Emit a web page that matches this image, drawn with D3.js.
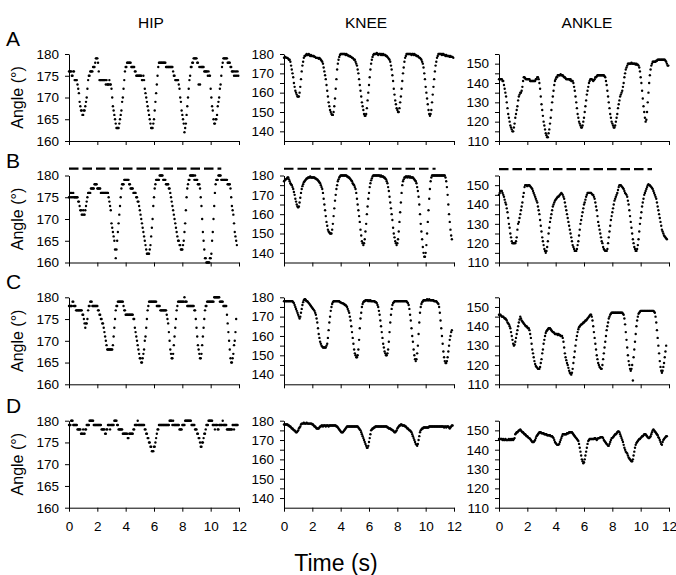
<!DOCTYPE html>
<html><head><meta charset="utf-8">
<script src="https://cdn.jsdelivr.net/npm/d3@7/dist/d3.min.js"></script>
<style>
body{margin:0;background:#fff}
svg{display:block}
text{font-family:"Liberation Sans",Arial,Helvetica,sans-serif;fill:#000}
</style>
</head><body>
<svg id="chart" width="676" height="575"></svg>
<script>
// ---------- data ----------
const sampleStep = 0.05;               // seconds between samples
const columns = ["HIP", "KNEE", "ANKLE"];
const rowLetters = ["A", "B", "C", "D"];
const xTicks = [0, 2, 4, 6, 8, 10, 12];
const hipTicks = [160, 165, 170, 175, 180];
const kneeTicks = [140, 145, 150, 155, 160, 165, 170, 175, 180];
const ankleTicks = [110, 115, 120, 125, 130, 135, 140, 145, 150, 155];
const hipDomain = [160, 180];
const kneeDomain = [135, 180];
const ankleDomain = [110, 155];
// dashed reference line in row B (value, end time) per column
const refLineValues = [181.6, 183.5, 158.3];
const refLineEnds = [10.75, 10.7, 10.8];

const hipA = [
176,176,176,176,175,175,176,176,174,174,174,174,173,172,171,169,168,167,167,166,
166,167,167,168,169,170,172,174,175,175,176,176,176,176,177,177,177,178,179,179,
179,178,176,174,174,174,174,174,174,174,174,174,173,174,173,173,173,174,173,173,
172,170,168,167,166,165,164,163,163,163,163,164,165,166,167,169,170,172,174,176,
177,177,178,178,178,178,178,178,177,177,177,177,177,176,176,175,175,175,175,175,
175,175,175,174,174,175,174,172,171,170,169,168,167,166,165,164,163,163,163,164,
165,167,169,171,173,175,177,178,178,178,178,178,178,178,178,178,178,177,177,177,
177,177,177,177,177,177,177,176,175,175,174,174,174,174,174,173,172,170,169,167,
166,165,164,162,163,164,166,168,170,172,174,175,177,177,178,178,179,179,179,179,
179,178,178,173,177,173,177,177,177,177,177,176,176,176,176,176,175,176,175,175,
172,170,168,167,165,164,164,165,165,166,168,169,170,172,173,175,177,178,179,179,
179,179,179,179,178,178,178,178,177,177,176,176,176,175,176,175,176,175,176,175];

const kneeA = [
178,178.5,178.5,178,178,178,177.5,177,177,176,174,172,170,168,165,163,161,160,159,158,
158,158,160,163,167,171,174,176,178,179,179,179.5,180,179.5,179.5,180,179.5,179,179.5,179,
179,179,179,178.5,178.5,178,178,178,178,177.5,178,177.5,177,176.5,176,175,173,171,169,167,
164,161,158,155,153,151,150,149,148.5,148.5,150,153,157,162,167,172,175,177,178.5,179.5,
180,180,180,180,180,180,180,179.5,180,179.5,179.5,179,179,179,178.5,178.5,178,178,177.5,177,
177,176,175,174,172,170,167,164,161,158,155,153,151,149,148,148,149,152,156,160,
164,168,172,175,177,178.5,179.5,180,180,180,180,180.5,180,179.5,180,180,180,179.5,180,179.5,
180,179.5,179.5,179.5,179,179,178.5,178,177.5,177,176,174,172,169,166,162,159,156,154,152,
151,150,150,152,155,158,162,166,170,173,176,178,179,180,180,180,180,180,180,180,
179.5,180,180,179.5,180,179.5,179.5,179,179,179,178.5,178,178,177.5,177,176,175,173,170,167,
163,160,157,154,151,149,148,149,151,155,159,163,167,171,174,176,178,179,180,180,
180,180,180,179.5,180,180,179.5,179.5,179,179.5,179,179,179,179,178.5,179,178.5,178.5,178.5,178];

const ankleA = [
142,142,142,142,142,141,141,139,137,135,133,130,127,124,122,120,118,117,116,115,
115,117,119,122,124,126,128,131,133,134,135,135,136,138,141,143,143,142.5,142,142,
142,142,142,142,141,141,141,141,141,141,141,141,142,142,143,143,142,140,137,133,
129,126,123,120,118,116,114,113,112,112,114,116,119,122,126,130,133,136,139,141,
142,143,143,144,144,144,144,144.5,144,144,144,143.5,143,143,142.5,142,142,142,142,142,
141.5,142,141,141,141,140,138,136,133,130,127,124,122,120,119,118,117,117,118,120,
122,125,128,131,134,136,138,140,141,142,142,142,141.5,141,141.5,142,143,143,143.5,144,
144,144,144,144,144,144,144,144,144,143.5,143,141,139,136,133,130,127,124,122,120,
119,118,117,117,118,120,122,124,127,129,131,133,134,135,136,138,140,143,145,147,
148,149,150,150,150,150,150,150.5,150,150,150,150,150,149.5,150,149.5,149.5,149,148,146,
143,140,136,132,128,125,122,120,121,125,130,135,140,144,147,149,150,151,151,151,
151,151,151.5,151.5,152,152,152,152,152,152,152,152,152,152,152,151.5,151,150,149,149];

const hipB = [
175,175,176,175,176,175,176,175,175,175,175,175,175,174,174,173,172,172,171,171,
172,171,171,172,173,174,175,176,176,176,176,177,177,177,177,177,178,178,178,178,
177,177,177,177,177,176,176,176,176,176,176,176,176,176,176,176,175,174,173,172,
169,168,167,166,165,163,161,163,165,167,169,171,173,175,177,178,178,178,179,179,
179,179,179,179,179,178,178,177,177,177,177,176,176,176,176,175,175,174,174,173,
172,171,170,169,168,167,166,165,164,163,162,162,162,162,163,164,166,168,170,173,
175,177,178,179,179,179,179,179,180,180,180,180,180,179,179,179,179,178,178,178,
178,177,177,176,175,174,173,172,171,170,169,168,167,166,165,165,164,164,163,163,
163,164,165,167,169,172,175,177,178,179,179,180,180,180,180,180,180,179,180,179,
179,179,178,178,178,177,175,173,170,167,165,163,161,161,160,160,160,160,160,161,
161,162,165,167,170,173,176,178,179,179,179,180,180,180,180,179,179,179,179,179,
179,179,179,179,178,178,178,178,177,175,173,172,171,169,167,166,165,164];

const kneeB = [
177,177.5,178,178,178.5,179,179,178,177,176,175.5,175,174,173,171.5,170,168,166.5,165,164,
163.5,164,166,168.5,171,173,174.5,175.5,176.5,177,177.5,178,178.5,178.5,179,179,179,179.5,179,179,
179,179,179,179,178.5,178.5,178,178,177.5,177,176.5,176,175,174,173,171,168,165,162,159,
156,154,152,151,150.5,150,150,150,152,155,159,163,167,170,173,175,177,178,179,179.5,
180,180,180,180,180,180,180,180,180,179.5,179.5,179,179,178.5,178,177.5,177,176,175.5,175,
174,173,171,168,165,162,159,156,152,149,146,145,144,145,147,151,155,160,164,168,
171,174,176,177.5,178.5,179.5,180,180,180,180,180,180,180,180,180,180,179.5,180,179.5,179.5,
179.5,179,179,178.5,178,177,176,174,172,169,166,163,160,157,153,150,148,146,145,144,
145,147,151,156,161,166,171,175,177,178,179,179,179.5,179.5,179,179.5,179.5,179,179.5,179,
179,179,179,178.5,178,177.5,177,176,174,172,169,165,160,155,151,147,143,140,138,138,
140,144,150,156,162,168,173,177,179,180,180,180,180,180,180,180,180,180,180,180,
180,180,180,180,180,180,180,180,179,177,174,170,165,160,156,152,149,147];

const ankleB = [
145,146,147,147,147,146,145,144,142.5,141,140,138,136,133,130,128,125,123,121,120,
120,120,120,120,121,123,127,130,131,133,135,137,139,141,144,146,149,150,150,150,
149.5,150,150,150,149.5,149,148.5,148,147,146,145,144,143,142,141,139,137,135,132,129,
126,123,121,119,117,116,115,116,118,121,125,128,131,133,135,137,139,140,141,142,
142.5,143,143.5,144,144,144.5,145,145.5,146,145.5,145,144,143,141,139,137,135,133,131,129,
127,125,123,121,119,118,117,116,116,116,117,119,121,124,127,130,132,134,136,138,
140,141,142.5,144,145,146,146,146,146,146,146,145.5,145,145,144,143,141,139,137,134,
131,129,127,125,123,121,120,118,117,116.5,116,116,116,117,120,123,126,129,132,134,
136,138,140,142,143,144,145,146,147.5,149,150,150,150,149.5,149,148.5,148,147,146,145.5,
145,144,142,140,137,134,131,128,125,122,120,118,117,116,116,117,119,122,126,130,
133,136,139,141,143,145,146,147,148,149,150,150.5,150,150,149.5,149,148.5,148,147,146,
145,144,143,141,139,137,135,133,131,129,127,126,125,124,123.5,123,122.5,122];

const hipC = [
178,178,178,178,178,179,179,178,178,178,177,177,177,177,177,177,177,177,177,176,
176,175,174,173,174,174,175,177,178,178,179,179,179,178,178,178,178,178,178,178,
178,177,177,176,176,175,175,174,174,173,172,171,170,169,168,168,168,168,168,168,
168,168,169,171,173,175,177,178,178,179,179,179,179,179,179,179,179,178,177,177,
176,176,176,176,176,176,176,176,176,176,176,175,175,173,172,171,170,169,168,167,
166,166,165,165,166,167,168,170,171,173,175,177,178,179,179,179,179,179,179,179,
179,179,179,179,178,178,178,178,178,177,177,177,177,177,177,177,177,177,176,175,
174,172,170,168,167,166,166,167,169,171,173,175,177,178,179,179,179,179,179,179,
179,179,179,180,179,179,179,178,178,178,178,178,178,178,178,178,178,177,177,175,
173,171,169,168,167,166,166,167,169,171,173,175,177,178,178,179,179,179,179,179,
179,179,179,179,179,180,180,180,180,180,180,180,180,179,179,179,179,179,178,178,
178,178,178,176,174,172,170,168,166,165,165,166,167,169,170,172,175];

const kneeC = [
178,178,178,178,178,178,178,178,178,178,178,178,178,177.5,177,176,175,174,173,172,
171,170,169,170,172,174,176,177.5,178.5,179,179,178.5,178,178,177.5,177,176.5,176,175.5,175,
174.5,174,173.5,173,172,171,169,167,164,161,159,157,156,155,154.5,154,154,154,154,154,
155,156,159,163,167,170,173,175,176.5,177.5,178,178,178,178,178,178,178,178,178,177.5,
177.5,177,177,177,176.5,176.5,176,176,175.5,175,174,173,172,170,168,165,162,159,156,153,
151,150,149,149,150,153,158,164,169,172,175,176.5,177.5,178,178,178.5,178.5,178.5,178.5,178,
178.5,178,178.5,178,178,178,178,178,178,177.5,177.5,177,176,175,173,171,168,165,162,159,
156,154,152,151,150,150,151,153,157,162,167,171,174,176,177,177.5,178,178,178,178,
178,178,178,178,178,178,178,178,178,178,178,178,178,178,177.5,177,176,174,171,168,
164,160,157,153,150,148,147,148,151,155,161,167,172,175,176.5,177.5,178,178.5,178.5,178.5,
178.5,178.5,179,178.5,178.5,179,178.5,178.5,178.5,178.5,178.5,178.5,178,178,178,178,177.5,177,176.5,175,
172,168,164,160,156,152,149,147,146,146,147,149,152,155,158,160,162,163];

const ankleC = [
146,146,146,145.5,145,145,145,144.5,144,144,143.5,143,142,141.5,141,140,139,137,135,133,
131,130,130.5,132,134,136,138,140,142,143.5,145,144,143,142.5,142,141.5,141,140.5,140,140,
139.5,139,139,138,136,134,131,128,126,124,122,120.5,119.5,119,118.5,118,118,118,119,121,
123,126,128,131,133,135,136.5,137.5,138,138.5,139,139,139,138.5,138,137.5,137,137,136.5,136,
136,136,136,135.5,136,135.5,135.5,135,135,135,134,132,129,126,124,122.5,121,120,118.5,117,
116,115.5,115,116,118,121,124,127,130,133,135,137,138.5,139.5,140,140.5,141,141,141.5,142,
142,142.5,143,143,143.5,144,144.5,145,145.5,146,146,145,143,140,137,134,131,128,125,123,
121,120,119,118.5,118,118,120,123,126,129,132,135,138,140,142,144,145,146,146.5,147,
147,147,147,147,147,147,147,147,147,147,147,147,147,147,147,146.5,146,144,141,137,
133,129,125,122,120,118,117,118,120,112,124,128,132,136,140,143,145,146.5,147,147.5,
148,148,148,148,148,148,148,148,148,148,148,148,148,148,148,148,148,148,148,147.5,
147,145,142,138,134,130,126,122,119,117,116,117,119,121,124,127,130];

const hipD = [
179,179,179,180,180,180,179,179,179,179,179,179,178,178,178,178,178,177,177,177,
178,177,177,178,178,179,179,179,179,180,180,180,180,180,180,179,179,179,179,179,
179,179,179,179,179,179,178,178,178,178,178,177,177,178,178,179,179,179,178,179,
179,179,179,179,180,180,180,180,179,179,178,178,178,178,178,178,177,177,177,177,
177,177,177,176,176,177,177,177,177,177,177,178,178,179,179,179,179,180,179,179,
179,179,179,179,179,179,179,178,178,177,177,176,176,175,175,174,174,173,173,173,
174,174,175,176,177,178,178,179,179,179,179,179,179,179,179,179,179,179,179,179,
179,179,180,180,180,180,179,180,179,179,179,179,179,179,179,179,178,178,178,178,
179,179,179,179,180,180,180,180,180,180,180,180,180,179,179,179,179,179,178,178,
178,177,177,176,176,175,174,174,175,175,176,177,177,178,179,179,179,180,180,180,
180,180,180,179,179,179,178,179,179,179,178,178,179,179,179,179,179,180,179,179,
179,179,179,178,178,178,178,178,178,178,178,179,179,178,179,179,179,179,179];

const kneeD = [
178,178,178,178,178,178,177.5,177.5,177,177,176.5,176,176,175.5,175,175,174.5,174,174,174.5,
175,176,176.5,177,178,178.5,178.5,178.5,179,178.5,178.5,178.5,179,178.5,178.5,178.5,178.5,178.5,178.5,178.5,
178,178,177.5,177,177,176.5,176,176,176,176,176.5,177,177,177.5,177.5,177,177.5,177.5,177.5,177,
177.5,177.5,177.5,177,177.5,177.5,177.5,177.5,177.5,177.5,177.5,177.5,177.5,177.5,177,177,176.5,176,175.5,175,
174.5,174,174,174,174.5,175,175.5,176,176.5,177,177,177,177,177,177,177,177,177,177,177,
177,177,177,177,177,176.5,176,175.5,175,174,173,172,171,170,169,168,167,166,166,167,
169,171,173,175,175.5,176,176,176.5,176.5,177,177,177,177,177,177,177,177,177,177,177,
177,177,177,177,177,177,176.5,176.5,176,176,176,175.5,175.5,175,175,174.5,174,174,174.5,175,
176,176.5,177,177.5,177.5,178,178,177.5,177.5,177.5,177.5,177,177,176.5,176,176,175.5,175,175,174.5,
174,173,172,171,170,169,168,167.5,167,168,170,172,174,175,175.5,176,176,176.5,176.5,176.5,
176.5,176.5,176.5,176.5,176.5,177,177,177,177,177,177,177,177,177,177,177,177,177,177,177,
177,177,177,177,177,177,176.5,177,177,176.5,177,177,177,176.5,176,176.5,177,177.5,177.5];

const ankleD = [
145.5,145.5,145.5,145.5,145.5,145,145.5,145,145,145.5,145,145,145,145,145.5,145,145,145.5,145,145.5,
145,145.5,146,148,148.5,149,149,149.5,150,150,150.5,150,149.5,149,149,148.5,148,148,147.5,147,
147,146.5,146,146,145.5,145,144.5,144,144,144,144.5,145,146,147,147.5,148,148.5,149,149,149,
148.5,148.5,148.5,148.5,148,148,148,148,147.5,147.5,147.5,147.5,147.5,147,147,147,146.5,146,145,144,
143.5,143,142.5,142.5,142.5,143,144,145,146,147,148,148,148,148,148,148,148.5,148.5,148.5,149,
149,149,149,149,148.5,148,147.5,147,146.5,146,145.5,145,144.5,143,141,139,137,135,134,133,
133.5,135,137,139,141,143,144.5,145,145.5,145.5,145.5,145.5,145.5,145.5,145.5,146,146,145.5,145,145.5,
146,146,146,146.5,146.5,146.5,146.5,146,145,144.5,144,143.5,143,142.5,142,142,143,144,145,146,
146,146.5,147,147.5,148,148,148.5,149,149.5,149.5,149,148,147,146,145,144,142.5,141,140,139,
138.5,138,137,136,135.5,135,134.5,134,134,135,137,139,141,142.5,143.5,144,144.5,145,145.5,145.5,
146,146.5,147,147,147.5,148,148,148,147.5,147,146.5,146,146,146.5,147,148,149,150,150.5,150,
149.5,149,148.5,148,147.5,146.5,146,145,144,143,142.5,144,145,145.5,146,146.5,147,147];

const series = [
  [hipA, kneeA, ankleA],
  [hipB, kneeB, ankleB],
  [hipC, kneeC, ankleC],
  [hipD, kneeD, ankleD]
];
const domains = [hipDomain, kneeDomain, ankleDomain];
const yTicks = [hipTicks, kneeTicks, ankleTicks];

// ---------- layout ----------
const colX = [69, 284, 499];
const panelW = 170;
const rowTop = [54, 175.5, 297.3, 420.7];
const panelH = 87;

const svg = d3.select("#chart");

// column titles
const titleX = [151, 366, 587];
columns.forEach((c, i) => {
  svg.append("text").attr("x", titleX[i]).attr("y", 28)
    .attr("text-anchor", "middle").attr("font-size", 15.5).text(c);
});

// row letters
rowLetters.forEach((l, r) => {
  svg.append("text").attr("x", 6).attr("y", rowTop[r] - 8)
    .attr("font-size", 21).text(l);
});

rowLetters.forEach((letter, r) => {
  // y-axis label for the hip column
  svg.append("text")
    .attr("transform", `translate(23,${rowTop[r] + panelH / 2}) rotate(-90)`)
    .attr("text-anchor", "middle").attr("font-size", 16)
    .text("Angle (°)");

  columns.forEach((col, c) => {
    const x = d3.scaleLinear().domain([0, 12]).range([colX[c], colX[c] + panelW]);
    const y = d3.scaleLinear().domain(domains[c]).range([rowTop[r] + panelH, rowTop[r]]);
    const g = svg.append("g");

    // y axis
    const yAxis = d3.axisLeft(y).tickValues(yTicks[c]).tickSize(4).tickSizeOuter(0).tickPadding(6)
      .tickFormat(d => (c === 0 || d % 10 === 0) ? d : "");
    const ya = g.append("g").attr("transform", `translate(${colX[c]},0)`).call(yAxis);
    ya.selectAll("text").attr("font-size", 13.5).style("font-family", '"Liberation Sans",Arial,sans-serif');
    ya.selectAll("line,path").attr("stroke", "#000");

    // x axis
    const xAxis = d3.axisBottom(x).tickValues(xTicks).tickSize(4).tickSizeOuter(0).tickPadding(10)
      .tickFormat(d => r === 3 ? d : "");
    const xa = g.append("g").attr("transform", `translate(0,${rowTop[r] + panelH})`).call(xAxis);
    xa.selectAll("text").attr("font-size", 13.5).style("font-family", '"Liberation Sans",Arial,sans-serif');
    xa.selectAll("line,path").attr("stroke", "#000");

    // dashed reference line (row B)
    if (r === 1) {
      g.append("line")
        .attr("x1", x(0)).attr("x2", x(refLineEnds[c]))
        .attr("y1", y(refLineValues[c])).attr("y2", y(refLineValues[c]))
        .attr("stroke", "#000").attr("stroke-width", 2.2)
        .attr("stroke-dasharray", "9.5,4");
    }

    // data dots
    g.append("g").selectAll("circle")
      .data(series[r][c])
      .join("circle")
      .attr("cx", (d, i) => x(i * sampleStep))
      .attr("cy", d => y(d))
      .attr("r", 1.2)
      .attr("fill", "#000");
  });
});

// x axis title
svg.append("text").attr("x", 336).attr("y", 571)
  .attr("text-anchor", "middle").attr("font-size", 23).text("Time (s)");
</script>
</body></html>
